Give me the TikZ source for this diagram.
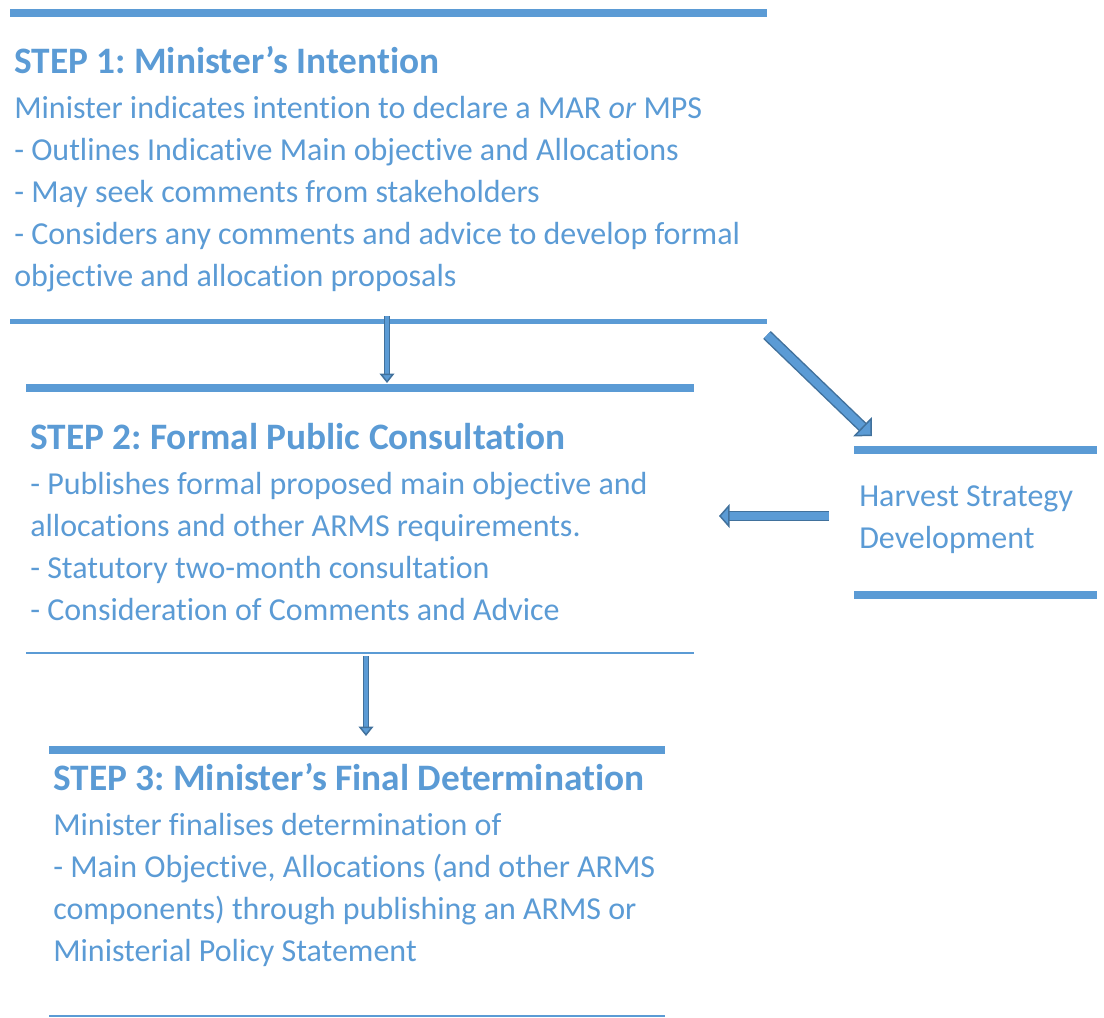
\documentclass[tikz,border=0pt]{standalone}
\usepackage{fontspec}
\setmainfont{Carlito}[Ligatures=NoCommon]
\usepackage{xcolor}
\usetikzlibrary{arrows.meta}
\definecolor{stepblue}{HTML}{5B9BD5}
\definecolor{edgeblue}{HTML}{41719C}
\frenchspacing

\tikzset{
  steptitle/.style={anchor=base west, inner sep=0, text=stepblue, font=\fontsize{28}{31.5}\selectfont\bfseries},
  stepbody/.style={anchor=north west, inner sep=0, text=stepblue, align=left, font=\fontsize{24}{31.5}\selectfont, execute at begin node=\strut},
  thickrule/.style={draw=stepblue, line width=6pt},
  midrule/.style={draw=stepblue, line width=3.75pt},
  thinrule/.style={draw=stepblue, line width=1.5pt},
  blockarrow/.style={draw=edgeblue, line width=1.1pt, double=stepblue, double distance=#1}
}

\begin{document}
\begin{tikzpicture}[x=0.75pt, y=-0.75pt]
\useasboundingbox (0,0) rectangle (1104,1018);

% step 1
\draw[thickrule] (10,12.5) -- (767,12.5);
\node[steptitle] (t1) at (14,73) {STEP 1: Minister’s Intention};
\node[stepbody] (b1) at (14,95.6) {Minister indicates intention to declare a MAR \textit{or} MPS\\
- Outlines Indicative Main objective and Allocations\\
- May seek comments from stakeholders\\
- Considers any comments and advice to develop formal\\
objective and allocation proposals};
\draw[midrule] (10,321.5) -- (767,321.5);

% step 2
\draw[thickrule] (26,387.5) -- (694,387.5);
\node[steptitle] (t2) at (30,449) {STEP 2: Formal Public Consultation};
\node[stepbody] (b2) at (30,471.6) {- Publishes formal proposed main objective and\\
allocations and other ARMS requirements.\\
- Statutory two-month consultation\\
- Consideration of Comments and Advice};
\draw[thinrule] (26,653) -- (694,653);

% step 3
\draw[thickrule] (49,750) -- (665,750);
\node[steptitle] (t3) at (53,790) {STEP 3: Minister’s Final Determination};
\node[stepbody] (b3) at (53,812.6) {Minister finalises determination of\\
- Main Objective, Allocations (and other ARMS\\
components) through publishing an ARMS or\\
Ministerial Policy Statement};
\draw[thinrule] (49,1016) -- (665,1016);

% harvest strategy
\draw[thickrule] (854,449.5) -- (1097,449.5);
\node[stepbody] (hs) at (859,485.6) {Harvest Strategy\\Development};
\draw[thickrule] (854,594.5) -- (1097,594.5);

% arrows
\coordinate (a1) at (387,316);
\coordinate (a2) at (387,383);
\coordinate (a3) at (767,335);
\coordinate (a4) at (872,436);
\coordinate (a5) at (829,516);
\coordinate (a6) at (719,516);
\coordinate (a7) at (366,656);
\coordinate (a8) at (366,736);
\draw[blockarrow=3pt, -{Triangle[length=7pt,width=11pt,fill=stepblue]}] (a1) -- (a2);
\draw[blockarrow=6pt, -{Triangle[length=10pt,width=20pt,fill=stepblue]}] (a3) -- (a4);
\draw[blockarrow=5.5pt, -{Triangle[length=8pt,width=18pt,fill=stepblue]}] (a5) -- (a6);
\draw[blockarrow=3pt, -{Triangle[length=7pt,width=11pt,fill=stepblue]}] (a7) -- (a8);
\end{tikzpicture}
\end{document}
